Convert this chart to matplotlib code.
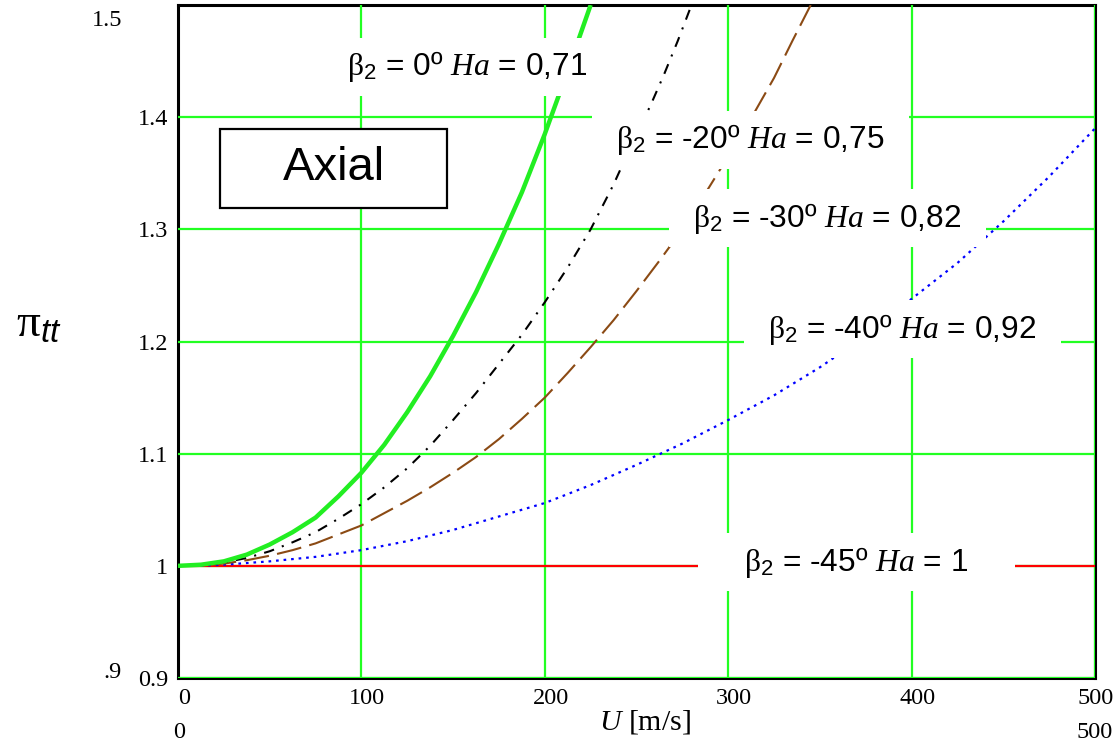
import matplotlib
matplotlib.use('Agg')
import matplotlib.pyplot as plt
from matplotlib.patches import Rectangle
from matplotlib.transforms import ScaledTranslation

plt.rcParams['font.family'] = 'Liberation Sans'
plt.rcParams['mathtext.fontset'] = 'custom'
plt.rcParams['mathtext.rm'] = 'Liberation Serif'
plt.rcParams['mathtext.it'] = 'Liberation Serif:italic'
plt.rcParams['mathtext.sf'] = 'Liberation Sans:italic'

# U [m/s] -> pi_tt
u_b0 = [0, 12.5, 25, 37.5, 50, 62.5, 75, 87.5, 100, 112.5, 125, 137.5, 150, 162.5,
        175, 187.5, 200, 210, 217.5, 225]
pi_b0 = [1.0, 1.001, 1.004, 1.010, 1.019, 1.030, 1.043, 1.062, 1.083, 1.108, 1.137,
         1.169, 1.205, 1.244, 1.287, 1.333, 1.385, 1.43, 1.465, 1.50]

u_b20 = [0, 12.5, 25, 37.5, 50, 62.5, 75, 87.5, 100, 112.5, 125, 137.5, 150, 162.5,
         175, 187.5, 200, 212.5, 225, 237.5, 250, 257.5, 265, 272.5, 280]
pi_b20 = [1.0, 1.0005, 1.003, 1.007, 1.013, 1.021, 1.03, 1.042, 1.055, 1.07, 1.087,
          1.107, 1.13, 1.154, 1.18, 1.206, 1.235, 1.266, 1.30, 1.34, 1.385, 1.41,
          1.438, 1.468, 1.50]

u_b30 = [0, 12.5, 25, 37.5, 50, 62.5, 75, 87.5, 100, 112.5, 125, 137.5, 150, 162.5,
         175, 187.5, 200, 212.5, 225, 237.5, 250, 262.5, 275, 287.5, 300, 312.5,
         325, 335, 345]
pi_b30 = [1.0, 1.0003, 1.002, 1.005, 1.009, 1.014, 1.02, 1.028, 1.036, 1.047, 1.058,
          1.07, 1.083, 1.097, 1.113, 1.131, 1.15, 1.172, 1.195, 1.219, 1.245, 1.272,
          1.30, 1.332, 1.365, 1.399, 1.435, 1.468, 1.50]

u_b40 = [0, 10, 25, 50, 75, 100, 125, 150, 175, 200, 225, 250, 275, 300, 325, 350,
         375, 400, 425, 450, 475, 500]
pi_b40 = [1.0, 1.0, 1.001, 1.004, 1.008, 1.014, 1.022, 1.032, 1.044, 1.056, 1.072,
          1.09, 1.109, 1.13, 1.152, 1.177, 1.205, 1.238, 1.27, 1.307, 1.347, 1.39]

u_b45 = [0, 500]
pi_b45 = [1.0, 1.0]

x_ticks = [0, 100, 200, 300, 400, 500]
y_ticks = [0.9, 1.0, 1.1, 1.2, 1.3, 1.4]
y_tick_labels = ['0.9', '1', '1.1', '1.2', '1.3', '1.4']

labels = [
    (157.6, 1.445, r'$\mathrm{\beta}_{\mathregular{2}}$ = 0º $\mathit{Ha}$ = 0,71'),
    (312.0, 1.380, r'$\mathrm{\beta}_{\mathregular{2}}$ = -20º $\mathit{Ha}$ = 0,75'),
    (354.0, 1.310, r'$\mathrm{\beta}_{\mathregular{2}}$ = -30º $\mathit{Ha}$ = 0,82'),
    (395.0, 1.211, r'$\mathrm{\beta}_{\mathregular{2}}$ = -40º $\mathit{Ha}$ = 0,92'),
    (370.0, 1.003, r'$\mathrm{\beta}_{\mathregular{2}}$ = -45º $\mathit{Ha}$ = 1'),
]

GRID = '#22ff22'

fig = plt.figure(figsize=(11.15, 7.42), dpi=100)
ax = fig.add_axes([178 / 1115, 64 / 742, 917 / 1115, 673 / 742])
ax.set_xlim(0, 500)
ax.set_ylim(0.9, 1.5)

for x in x_ticks[1:]:
    ax.axvline(x, color=GRID, lw=1.6, zorder=2.6)
for y in y_ticks:
    ax.axhline(y, color=GRID, lw=1.6, zorder=2.6)

ax.plot(u_b45, pi_b45, color='#ff0000', lw=1.6, zorder=3)
ax.plot(u_b40, pi_b40, color='#0000ff', lw=1.6, ls=(0, (1.2, 2.2)), zorder=3)
ax.plot(u_b30, pi_b30, color='#8b4a14', lw=1.5, ls=(0, (12, 4)), zorder=3)
ax.plot(u_b20, pi_b20, color='black', lw=1.5, ls=(0, (5, 4, 1, 4)), zorder=3)
ax.plot(u_b0, pi_b0, color='#22ee22', lw=3.2, zorder=3.1, solid_capstyle='butt')

# white label boxes over the curves (Mathcad text regions)
box_w, box_h = 173.0, 0.0517
for x, y, txt in labels:
    ax.add_patch(Rectangle((x - box_w / 2, y - box_h / 2), box_w, box_h,
                           facecolor='white', edgecolor='none', zorder=5))
    ax.text(x, y, txt, fontsize=22.8, ha='center', va='center', zorder=6)

ax.add_patch(Rectangle((22.9, 1.319), 123.8, 0.0704, facecolor='white',
                       edgecolor='black', lw=1.6, zorder=5))
ax.text(85, 1.3547, 'Axial', fontsize=34, ha='center', va='center', zorder=6)

for s in ax.spines.values():
    s.set_linewidth(2.2)
    s.set_color('black')

ax.set_xticks(x_ticks)
ax.set_xticklabels([str(v) for v in x_ticks], family='Liberation Serif', fontsize=17.5)
ax.set_yticks(y_ticks)
ax.set_yticklabels(y_tick_labels, family='Liberation Serif', fontsize=17.5)
ax.tick_params(length=0, pad=7)
xlabs = ax.get_xticklabels()
for lab in xlabs[:-1]:
    lab.set_transform(lab.get_transform() + ScaledTranslation(0.06, 0, fig.dpi_scale_trans))
xlabs[-1].set_transform(xlabs[-1].get_transform()
                        + ScaledTranslation(0.005, 0, fig.dpi_scale_trans))

# axis titles and Mathcad limit labels
fig.text(16 / 1115, 1 - 337 / 742, r'$\mathrm{\pi}_{\mathsf{tt}}$', fontsize=34,
         ha='left', va='baseline')
fig.text(645 / 1115, 1 - 722 / 742, r'$\mathit{U}$ [m/s]', family='Liberation Serif',
         fontsize=21.5, ha='center', va='center')
fig.text(122 / 1115, 1 - 21 / 742, '1.5', family='Liberation Serif', fontsize=17.5,
         ha='right', va='center')
fig.text(122 / 1115, 1 - 672 / 742, '.9', family='Liberation Serif', fontsize=17.5,
         ha='right', va='center')
fig.text(179 / 1115, 1 - 733 / 742, '0', family='Liberation Serif', fontsize=17.5,
         ha='center', va='center')
fig.text(1113 / 1115, 1 - 733 / 742, '500', family='Liberation Serif', fontsize=17.5,
         ha='right', va='center')

fig.savefig('out.png', dpi=100)
